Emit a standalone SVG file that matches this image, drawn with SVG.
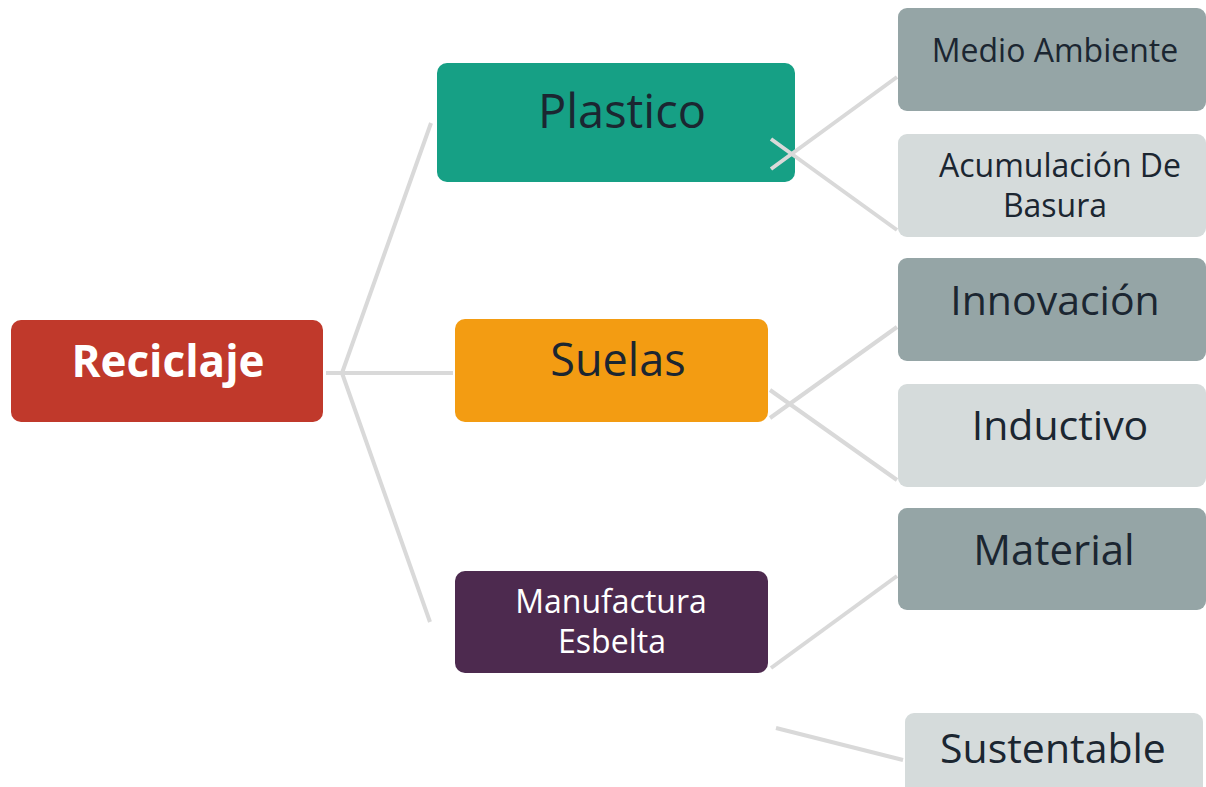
<svg xmlns="http://www.w3.org/2000/svg" width="1206" height="787" viewBox="0 0 1206 787">
<style>
.t{font-family:"Open Sans","Noto Sans","DejaVu Sans",sans-serif;text-anchor:middle;fill:#1b2631}
.w{fill:#ffffff}
.c{stroke:#d9d9d9;stroke-width:4;fill:none}
</style>
<rect width="1206" height="787" fill="#ffffff"/>
<g id="reciclaje">
<rect x="11" y="320" width="312" height="102" rx="10" fill="#c0392b"/>
<text class="t w" x="168" y="377" font-size="44" font-weight="bold">Reciclaje</text>
</g>
<g id="plastico">
<rect x="437" y="63" width="358" height="119" rx="10" fill="#16a085"/>
<text class="t" x="622" y="128" font-size="47">Plastico</text>
</g>
<g id="suelas">
<rect x="455" y="319" width="313" height="103" rx="10" fill="#f39c12"/>
<text class="t" x="618" y="376" font-size="45">Suelas</text>
</g>
<g id="manufactura">
<rect x="455" y="571" width="313" height="102" rx="10" fill="#4d2a4f"/>
<text class="t w" x="611" y="613" font-size="32">Manufactura</text>
<text class="t w" x="612" y="653" font-size="32">Esbelta</text>
</g>
<g id="medio-ambiente">
<rect x="898" y="8" width="308" height="103" rx="9" fill="#95a5a6"/>
<text class="t" x="1055" y="62" font-size="32">Medio Ambiente</text>
</g>
<g id="acumulacion">
<rect x="898" y="134" width="308" height="103" rx="9" fill="#d5dbdb"/>
<text class="t" x="1060" y="177" font-size="32">Acumulación De</text>
<text class="t" x="1055" y="217" font-size="32">Basura</text>
</g>
<g id="innovacion">
<rect x="898" y="258" width="308" height="103" rx="9" fill="#95a5a6"/>
<text class="t" x="1055" y="315" font-size="41">Innovación</text>
</g>
<g id="inductivo">
<rect x="898" y="384" width="308" height="103" rx="9" fill="#d5dbdb"/>
<text class="t" x="1060" y="440" font-size="41">Inductivo</text>
</g>
<g id="material">
<rect x="898" y="508" width="308" height="102" rx="9" fill="#95a5a6"/>
<text class="t" x="1054" y="565" font-size="42">Material</text>
</g>
<g id="sustentable">
<rect x="905" y="713" width="298" height="103" rx="9" fill="#d5dbdb"/>
<text class="t" x="1053" y="763" font-size="41">Sustentable</text>
</g>
<g id="connectors">
<path class="c" d="M326 373 H342 M342 373 L431 123 M342 373 H453 M342 373 L430 622"/>
<path class="c" d="M771 169 L897 77 M771 139 L897 230"/>
<path class="c" d="M770 418 L897 327 M770 390 L897 480"/>
<path class="c" d="M771 668 L897 576"/>
<path class="c" d="M776 728 L903 760"/>
</g>
</svg>
